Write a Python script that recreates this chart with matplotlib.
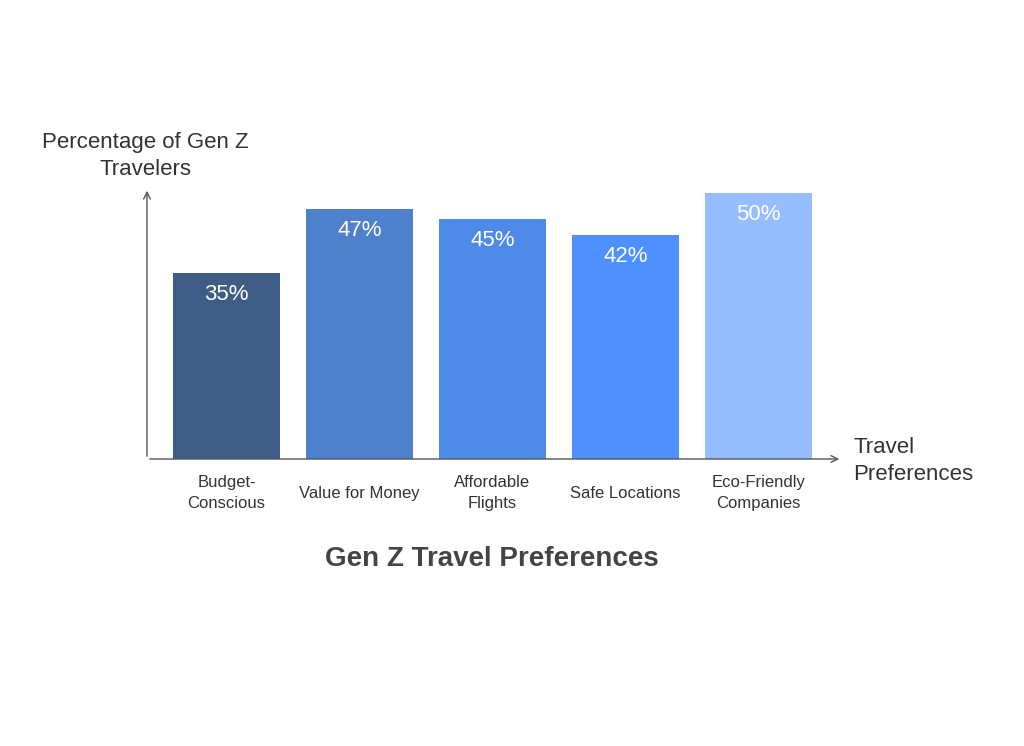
import matplotlib.pyplot as plt

# Chart data
categories = ['Budget-\nConscious', 'Value for Money', 'Affordable\nFlights',
              'Safe Locations', 'Eco-Friendly\nCompanies']
percentages = [35, 47, 45, 42, 50]
bar_colors = ['#3F5C86', '#4F80CB', '#4E8AE8', '#4F90FF', '#96BDFF']

plt.rcParams['font.family'] = ['Liberation Sans', 'DejaVu Sans']

W, H = 1024, 746
fig = plt.figure(figsize=(W / 100, H / 100), dpi=100)

# axes box: origin at (147, 459) px, extends to x=842, y=188
x0, y0, x1, y1 = 147, 459, 842, 188
ax = fig.add_axes([x0 / W, 1 - y0 / H, (x1 - x0) / W, (y0 - y1) / H])

index = range(len(categories))
ax.bar(index, percentages, width=0.805, color=bar_colors)
ax.set_xlim(-0.598, 4.628)
ax.set_ylim(0, 50.9)

for i, v in zip(index, percentages):
    ax.annotate(f'{v}%', xy=(i, v), xytext=(0, -15.5), textcoords='offset points',
                ha='center', va='center', color='white', fontsize=16)

for s in ax.spines.values():
    s.set_visible(False)
ax.set_yticks([])
ax.set_xticks(list(index))
ax.set_xticklabels(categories, fontsize=12, color='#333333', linespacing=1.43)
for lab in ax.get_xticklabels():
    lab.set_va('center')
ax.tick_params(axis='x', length=0, pad=24.5)

# axis arrows
arrow = dict(arrowstyle='->', color='#555555', lw=1.0, mutation_scale=12)
ax.annotate('', xy=(1.0, 0), xytext=(0, 0), xycoords='axes fraction', arrowprops=arrow)
ax.annotate('', xy=(0, 1.0), xytext=(0, 0), xycoords='axes fraction', arrowprops=arrow)

fig.text(145 / W, 1 - 156 / H, 'Percentage of Gen Z\nTravelers', ha='center', va='center',
         fontsize=16, color='#333333', linespacing=1.33)
fig.text(853 / W, 1 - 461 / H, 'Travel\nPreferences', ha='left', va='center',
         fontsize=16, color='#333333', linespacing=1.33)
fig.text(492 / W, 1 - 559 / H, 'Gen Z Travel Preferences', ha='center', va='center',
         fontsize=20, fontweight='bold', color='#444444')

fig.savefig('out.png', dpi=100)
